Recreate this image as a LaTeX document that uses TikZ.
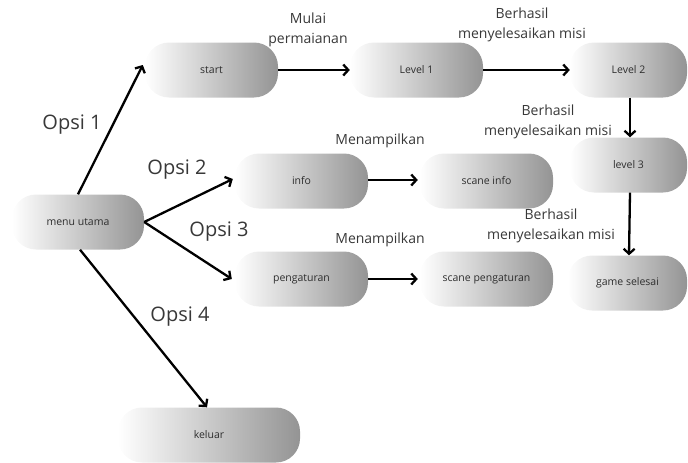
\documentclass[tikz,border=0pt]{standalone}
\usepackage{fontspec}
\setmainfont{Open Sans}
\usetikzlibrary{arrows.meta}
\begin{document}
\begin{tikzpicture}[x=1pt,y=-1pt,
  box/.style={minimum height=55pt, rounded corners=24pt, left color=white, right color=black!42,
    text=black!82, font=\fontsize{10.5}{12}\selectfont, inner sep=0pt},
  lbl/.style={font=\fontsize{14}{20}\selectfont, align=center, text=black!78},
  opsi/.style={font=\fontsize{20}{24}\selectfont, text=black!78},
  arr/.style={-{Straight Barb[length=5pt,width=11pt]}, line width=2.3pt}]
\useasboundingbox (0,0) rectangle (688,463);
% nodes
\node[box, minimum width=132pt] (menu) at (78,222) {menu utama};
\node[box, minimum width=133pt] (start) at (211.5,70) {start};
\node[box, minimum width=133pt] (lv1) at (416.5,70) {Level 1};
\node[box, minimum width=117pt] (lv2) at (628.5,70) {Level 2};
\node[box, minimum width=117pt] (lv3) at (628.5,165) {level 3};
\node[box, minimum width=119pt] (game) at (627.5,283) {game selesai};
\node[box, minimum width=133pt] (info) at (301.5,181) {info};
\node[box, minimum width=133pt] (sinfo) at (486.5,181) {scane info};
\node[box, minimum width=133pt] (peng) at (301.5,279) {pengaturan};
\node[box, minimum width=133pt] (speng) at (486.5,279) {scane pengaturan};
\node[box, minimum width=182pt] (kel) at (209,435) {keluar};
% connectors
\draw[arr] (menu.north) -- ([xshift=-2pt,yshift=5pt]start.west);
\draw[arr] (menu.east) -- ([xshift=-2pt,yshift=2pt]info.west);
\draw[arr] (menu.east) -- ([xshift=-3pt]peng.west);
\draw[arr] ([xshift=2pt]menu.south) -- ([xshift=-2pt]kel.north);
\draw[arr] (start.east) -- (lv1.west);
\draw[arr] (lv1.east) -- (lv2.west);
\draw[arr] ([xshift=1.5pt]lv2.south) -- ([xshift=1.5pt]lv3.north);
\draw[arr] ([xshift=1.5pt]lv3.south) -- ([xshift=1.5pt]game.north);
\draw[arr] ([yshift=1pt]info.east) -- ([xshift=-2pt,yshift=1pt]sinfo.west);
\draw[arr] (peng.east) -- ([xshift=-2pt]speng.west);
% labels
\node[opsi] (o1) at (72,125) {Opsi 1};
\node[opsi] (o2) at (177,170) {Opsi 2};
\node[opsi] (o3) at (219,232) {Opsi 3};
\node[opsi] (o4) at (180,317) {Opsi 4};
\node[lbl] (l1) at (308,30) {Mulai\\permaianan};
\node[lbl] (l2) at (522,25) {Berhasil\\menyelesaikan misi};
\node[lbl] (l3) at (548,122) {Berhasil\\menyelesaikan misi};
\node[lbl] (l4) at (551,226) {Berhasil\\menyelesaikan misi};
\node[lbl] (m1) at (380,141) {Menampilkan};
\node[lbl] (m2) at (380,240) {Menampilkan};
\end{tikzpicture}
\end{document}
